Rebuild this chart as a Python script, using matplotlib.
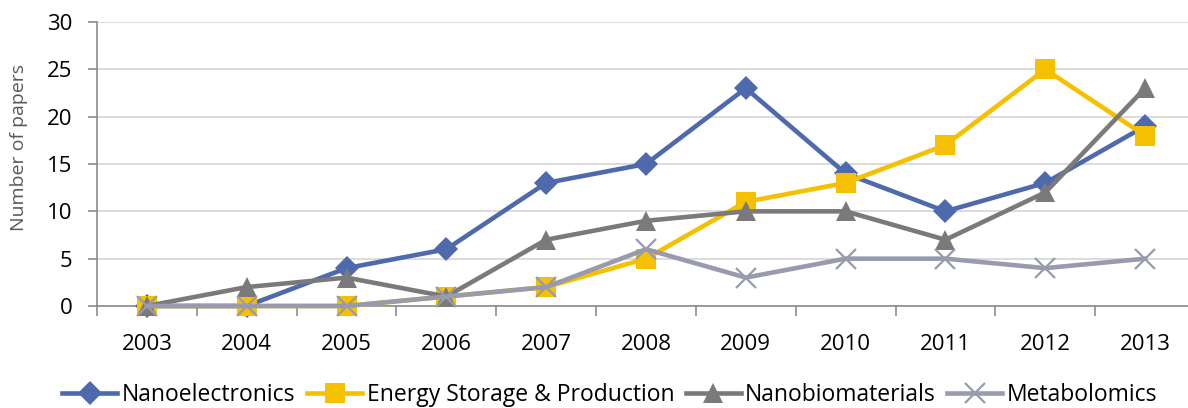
import matplotlib
matplotlib.use("Agg")
import matplotlib.pyplot as plt
from matplotlib.ticker import FixedLocator, NullFormatter

years = ["2003", "2004", "2005", "2006", "2007", "2008", "2009", "2010", "2011", "2012", "2013"]
nanoelectronics = [0, 0, 4, 6, 13, 15, 23, 14, 10, 13, 19]
energy_storage = [0, 0, 0, 1, 2, 5, 11, 13, 17, 25, 18]
nanobiomaterials = [0, 2, 3, 1, 7, 9, 10, 10, 7, 12, 23]
metabolomics = [0, 0, 0, 1, 2, 6, 3, 5, 5, 4, 5]

plt.rcParams['font.family'] = ['Open Sans', 'DejaVu Sans']

fig = plt.figure(figsize=(11.88, 4.08), dpi=100)
ax = fig.add_axes([97 / 1188, 1 - 306 / 408, 1098 / 1188, (306 - 22) / 408])

x = list(range(len(years)))
series = [
    ("Nanoelectronics", nanoelectronics, "#4E69AC", "D", 12.5),
    ("Energy Storage & Production", energy_storage, "#F5C000", "s", 14),
    ("Nanobiomaterials", nanobiomaterials, "#7A7A7A", "^", 14.5),
    ("Metabolomics", metabolomics, "#989AAE", "x", 14),
]
for i, (name, vals, col, mk, ms) in enumerate(series):
    kw = dict(markeredgewidth=1.6) if mk == "x" else dict(markeredgewidth=0)
    ax.plot(x, vals, color=col, lw=3.3, marker=mk, markersize=ms,
            markerfacecolor=col, markeredgecolor=col, label=name,
            zorder=3 + i, solid_joinstyle="miter", clip_on=False, **kw)

ax.set_xlim(-0.5, len(years) - 0.5)
ax.set_ylim(0, 30)
ax.set_yticks(range(0, 31, 5))
ax.set_xticks(x)
ax.set_xticklabels(years)
ax.xaxis.set_minor_locator(FixedLocator([i - 0.5 for i in range(len(years) + 1)]))
ax.xaxis.set_minor_formatter(NullFormatter())
ax.tick_params(axis="x", which="major", length=0, pad=20, labelsize=16, labelcolor="#000000")
ax.tick_params(axis="x", which="minor", length=7, width=1.2, color="#8C8C8C")
ax.tick_params(axis="y", length=6.5, width=1.2, color="#8C8C8C", labelsize=16, pad=11,
               labelcolor="#000000")

ax.grid(axis="y", color="#D9D9D9", lw=1.3, zorder=0)
ax.set_axisbelow(True)
for s in ["top", "right"]:
    ax.spines[s].set_visible(False)
for s in ["left", "bottom"]:
    ax.spines[s].set_color("#8C8C8C")
    ax.spines[s].set_linewidth(1.2)

ax.set_ylabel("Number of papers", fontsize=14, color="#595959")
ax.yaxis.set_label_coords((28 - 97) / 1098, 0.558)

fig.legend(loc="center", bbox_to_anchor=(610 / 1188, 1 - 395 / 408), ncol=4, frameon=False,
           fontsize=16.5, handlelength=2.4, columnspacing=0.5, handletextpad=0.2,
           borderaxespad=0)

fig.savefig("out.png", dpi=100)
